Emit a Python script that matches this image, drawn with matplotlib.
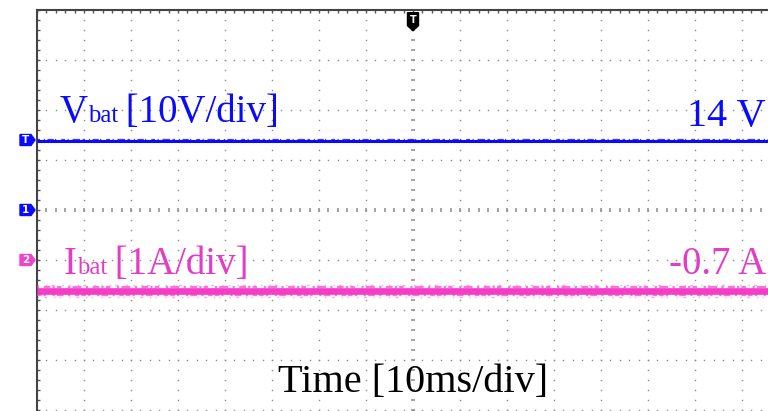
import matplotlib
matplotlib.use('Agg')
import matplotlib.pyplot as plt
import numpy as np
from matplotlib.patches import Polygon
from matplotlib.ticker import MultipleLocator
from matplotlib.offsetbox import TextArea, HPacker, AnnotationBbox

# scope settings and readings (trigger at screen centre)
t_ms = [-80, 80]
vbat = [13.8, 13.8]      # V, level of ch1 trace
ibat = [-0.62, -0.62]    # A, level of ch2 trace
t_scale = 10             # ms/div
v_scale = 10             # V/div
i_scale = 1              # A/div
ch1_gnd = 0              # div
ch2_gnd = -1             # div
trig_level = 14          # V
vbat_readout = '14 V'
ibat_readout = '-0.7 A'

blue = '#0a0aff'
pink = '#f53cc8'
pink_txt = '#e33cc6'
grid_c = '#8c8c8c'
serif = 'Liberation Serif'

fig = plt.figure(figsize=(7.68, 4.11), dpi=100)
ax = fig.add_axes([37 / 768, 1 / 411, 752 / 768, 400 / 411])
ax.set_xlim(0, 16)
ax.set_ylim(-4, 4)
px = 1 / 47   # one pixel in x-div
py = 1 / 50   # one pixel in y-div

# graticule dots
gx = np.arange(0, 16.01, 0.2)
gy = np.arange(-4, 4.01, 0.2)
for xv in range(1, 16):
    if xv == 8:
        continue
    ax.plot(np.full(gy.size, xv), gy, ls='none', marker='s', ms=1.0, mew=0, color=grid_c, zorder=1)
for yv in [-4, -3, -2, -1, 1, 2, 3]:
    ax.plot(gx, np.full(gx.size, yv), ls='none', marker='s', ms=1.0, mew=0, color=grid_c, zorder=1)
# centre axes with short dashes
ax.plot(np.full(gy.size, 8), gy, ls='none', marker='_', ms=3, mew=1.1, color=grid_c, zorder=1)
ax.plot(gx, np.zeros(gx.size), ls='none', marker='|', ms=3, mew=1.1, color=grid_c, zorder=1)

# border + minor ticks
for s in ['right', 'bottom']:
    ax.spines[s].set_visible(False)
for s in ['left', 'top']:
    ax.spines[s].set_color('#444444')
    ax.spines[s].set_linewidth(1.5)
ax.xaxis.set_major_locator(MultipleLocator(0.2))
ax.yaxis.set_major_locator(MultipleLocator(0.2))
ax.tick_params(direction='in', length=2.5, width=1, color='#555555',
               top=True, bottom=False, left=True, right=False,
               labeltop=False, labelbottom=False, labelleft=False)

# traces
x = np.array(t_ms) / t_scale + 8
y1 = np.array(vbat) / v_scale + ch1_gnd
y2 = np.array(ibat) / i_scale + ch2_gnd
ax.plot(x, y1, color=blue, lw=2.2, solid_capstyle='butt', zorder=3)
ax.plot(x, y1 + 2.2 * py, color=blue, lw=0.9, alpha=0.8, zorder=3,
        ls=(0, (2, 3, 1, 2, 5, 1, 1, 4, 3, 2, 1, 3, 6, 2)))
ax.plot(x, y2, color=pink, lw=4.8, solid_capstyle='butt', zorder=3)
ax.plot(x, y2 + 4.2 * py, color=pink, lw=1.6, alpha=0.7, zorder=3,
        ls=(0, (1, 2, 3, 1, 1, 1, 2, 3, 1, 1, 4, 2)))
ax.plot(x, y2 - 4.2 * py, color=pink, lw=1.6, alpha=0.7, zorder=3,
        ls=(0, (2, 1, 1, 3, 1, 1, 3, 2, 1, 2, 2, 1)))
ax.plot(x, y2 + 6 * py, color=pink, lw=1.0, alpha=0.45, zorder=3,
        ls=(0, (1, 5, 1, 3, 2, 6, 1, 4)))
ax.plot(x, y2 - 6 * py, color=pink, lw=1.0, alpha=0.45, zorder=3,
        ls=(0, (1, 4, 2, 5, 1, 3, 1, 6)))


def label(xd, yd, main, sub, rest, color, size):
    parts = [TextArea(main, textprops=dict(family=serif, size=size, color=color)),
             TextArea(sub, textprops=dict(family=serif, size=size * 0.64, color=color)),
             TextArea(rest, textprops=dict(family=serif, size=size, color=color))]
    box = HPacker(children=parts, align='baseline', pad=0, sep=0)
    ab = AnnotationBbox(box, (xd, yd), xycoords='data', box_alignment=(0, 0),
                        frameon=False, pad=0, zorder=4)
    ax.add_artist(ab)


label(0.49, 1.83 - 12.5 * py, 'V', 'bat', '\u2009[10V/div]', blue, 28)
label(0.57, -1.2 - 12.5 * py, 'I', 'bat', '\u2009[1A/div]', pink_txt, 28)
ax.text(15.5, 1.74 - 3 * py, vbat_readout, family=serif, size=29, color=blue, ha='right', va='baseline', zorder=4)
ax.text(15.52, -1.26 - 1 * py, ibat_readout, family=serif, size=28, color=pink_txt, ha='right', va='baseline', zorder=4)
ax.text(8, -3.62 - 1 * py, 'Time [10ms/div]', family=serif, size=29, color='black', ha='center', va='baseline', zorder=4)


# channel / trigger markers
def left_marker(yd, color, txt):
    x0, w, tip, h = -17 * px, 11 * px, 4 * px, 5.5 * py
    pts = [(x0, yd - h), (x0 + w, yd - h), (x0 + w + tip, yd), (x0 + w, yd + h), (x0, yd + h)]
    ax.add_patch(Polygon(pts, closed=True, color=color, clip_on=False, zorder=5))
    ax.text(x0 + w / 2, yd, txt, color='white', size=7.5, weight='bold', ha='center', va='center',
            clip_on=False, zorder=6)


left_marker(trig_level / v_scale + ch1_gnd, blue, 'T')
left_marker(ch1_gnd, blue, '1')
left_marker(ch2_gnd, '#ee44cc', '2')

xc = 8
top = 4 - 2.7 * py
pts = [(xc - 5.5 * px, top), (xc + 5.5 * px, top), (xc + 5.5 * px, top - 13 * py),
       (xc, top - 18 * py), (xc - 5.5 * px, top - 13 * py)]
ax.add_patch(Polygon(pts, closed=True, color='black', clip_on=False, zorder=5))
ax.text(xc, top - 7 * py, 'T', color='white', size=7, weight='bold', ha='center', va='center', zorder=6)

fig.savefig('out.png', dpi=100)
